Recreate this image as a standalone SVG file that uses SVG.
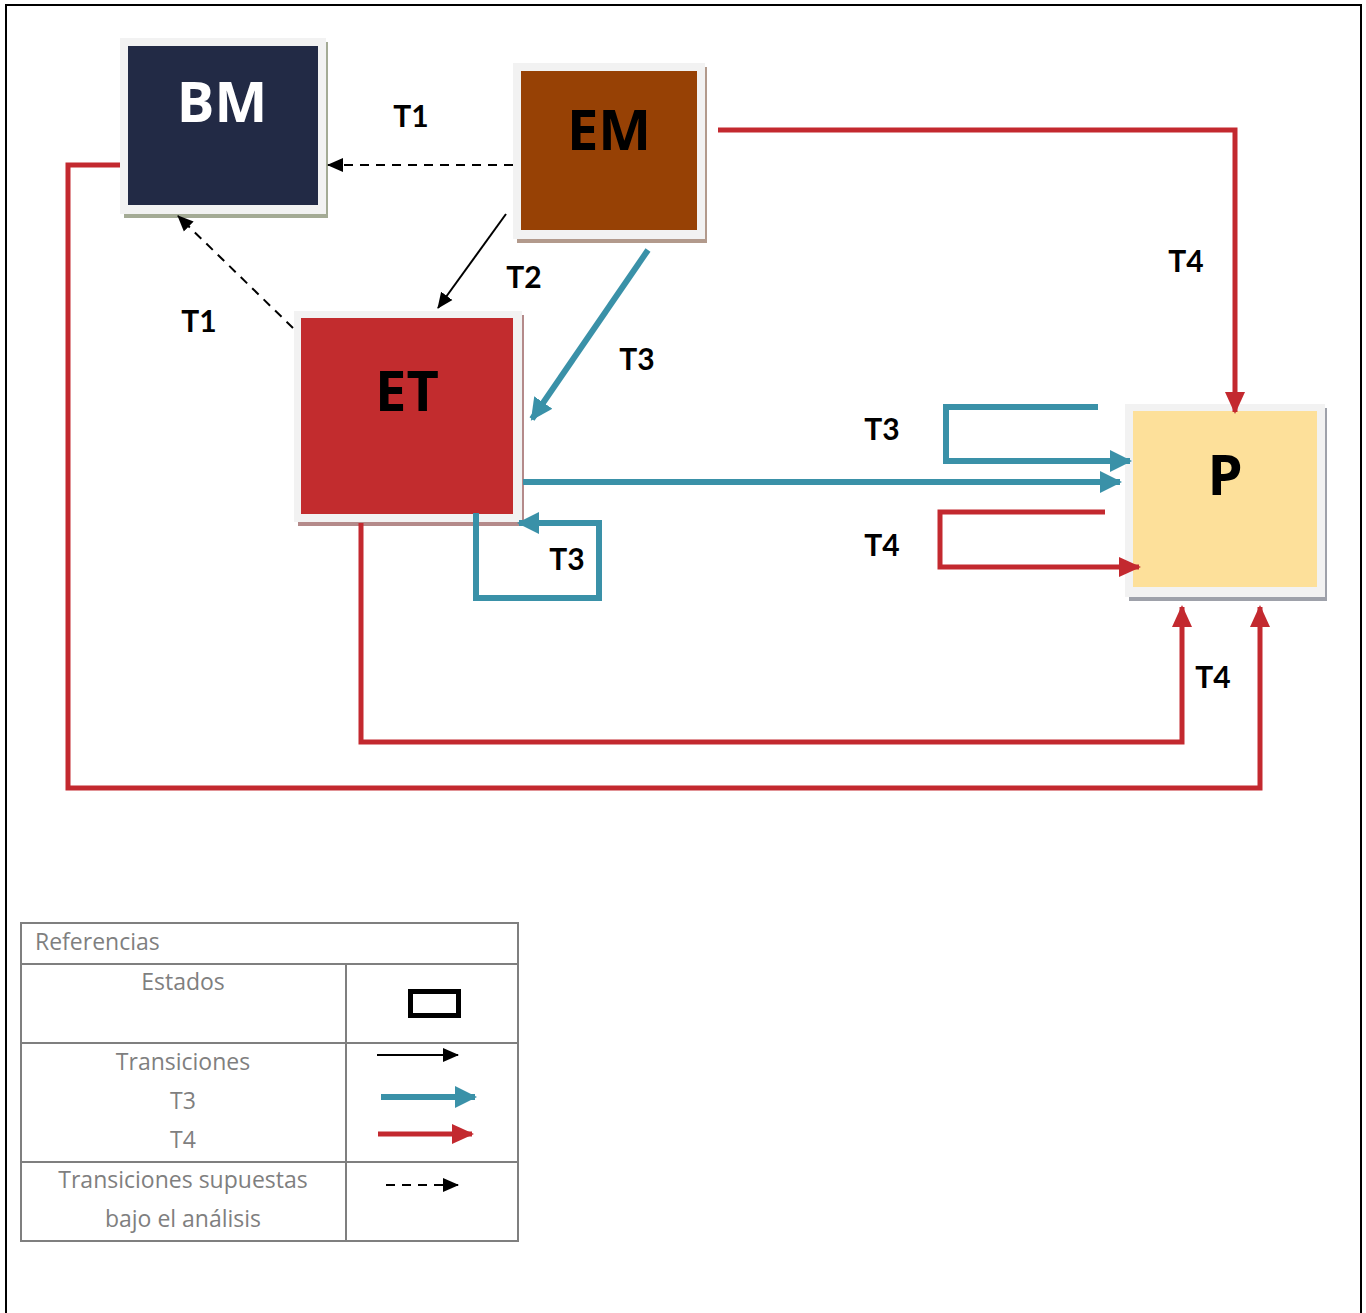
<svg xmlns="http://www.w3.org/2000/svg" width="1366" height="1313" viewBox="0 0 1366 1313">
<style>
.lbl{font-family:Lato,"Liberation Sans",sans-serif;font-weight:bold;font-size:30px;fill:#000;text-anchor:middle}
.ntx{font-family:"Open Sans","Liberation Sans",sans-serif;font-weight:bold;font-size:56px;text-anchor:middle}
.leg{font-family:"Open Sans","Liberation Sans",sans-serif;font-size:23px;fill:#7f7f7f}
.frame{fill:#f2f2f2}
.teal{stroke:#3a91a8;stroke-width:6;fill:none}
.red{stroke:#c3292f;stroke-width:5;fill:none}
.blk{stroke:#000;stroke-width:2;fill:none}
.dash{stroke:#000;stroke-width:2;fill:none;stroke-dasharray:9 7}
.grid{stroke:#7f7f7f;stroke-width:2;fill:none}
</style>
<defs>
<marker id="aT" markerUnits="userSpaceOnUse" markerWidth="24" markerHeight="24" refX="20" refY="12" orient="auto"><path d="M0,1 L22,12 L0,23 Z" fill="#3a91a8"/></marker>
<marker id="aR" markerUnits="userSpaceOnUse" markerWidth="24" markerHeight="24" refX="20" refY="12" orient="auto"><path d="M0,2 L22,12 L0,22 Z" fill="#c3292f"/></marker>
<marker id="aB" markerUnits="userSpaceOnUse" markerWidth="18" markerHeight="18" refX="15" refY="8" orient="auto"><path d="M0,1 L16,8 L0,15 Z" fill="#000"/></marker>
</defs>
<rect width="1366" height="1313" fill="#fff"/>
<path d="M6,1313 V5 H1361 V1313" fill="none" stroke="#000" stroke-width="2"/>

<g id="BM">
<rect x="124" y="42" width="204" height="176" fill="#a4ab95"/>
<rect class="frame" x="120" y="38" width="206" height="176"/>
<rect x="128" y="46" width="190" height="159" fill="#222a45"/>
<text class="ntx" x="222" y="122" fill="#fff">BM</text>
</g>
<g id="EM">
<rect x="517" y="67" width="190" height="176" fill="#b29a8c"/>
<rect class="frame" x="513" y="63" width="192" height="176"/>
<rect x="521" y="71" width="176" height="159" fill="#974105"/>
<text class="ntx" x="609" y="150" fill="#000">EM</text>
</g>
<g id="ET">
<rect x="298" y="315" width="226" height="211" fill="#b48a8a"/>
<rect class="frame" x="294" y="311" width="228" height="211"/>
<rect x="301" y="318" width="212" height="196" fill="#c22c2e"/>
<text class="ntx" x="407" y="411" fill="#000">ET</text>
</g>
<g id="P">
<rect x="1129" y="408" width="198" height="193" fill="#9ea1aa"/>
<rect class="frame" x="1125" y="404" width="200" height="193"/>
<rect x="1133" y="411" width="184" height="176" fill="#fde09a"/>
<text class="ntx" x="1225" y="495" fill="#000">P</text>
</g>

<g id="connectors">
<line class="dash" x1="513" y1="165" x2="328" y2="165" marker-end="url(#aB)"/>
<line class="dash" x1="293" y1="328" x2="178" y2="216" marker-end="url(#aB)"/>
<line class="blk" x1="506" y1="214" x2="438" y2="308" marker-end="url(#aB)"/>
<line class="teal" x1="648" y1="250" x2="532" y2="419" marker-end="url(#aT)"/>
<line class="teal" x1="523" y1="482" x2="1120" y2="482" marker-end="url(#aT)"/>
<polyline class="teal" points="1098,407 946,407 946,461 1130,461" marker-end="url(#aT)"/>
<polyline class="red" points="1105,512 940,512 940,567 1139,567" marker-end="url(#aR)"/>
<polyline class="teal" points="476,513 476,598 599,598 599,523 519,523" marker-end="url(#aT)"/>
<polyline class="red" points="718,130 1235,130 1235,412" marker-end="url(#aR)"/>
<polyline class="red" points="361,523 361,742 1182,742 1182,607" marker-end="url(#aR)"/>
<polyline class="red" points="120,165 68,165 68,788 1260,788 1260,607" marker-end="url(#aR)"/>
</g>

<g id="labels">
<text class="lbl" x="411" y="127">T1</text>
<text class="lbl" x="524" y="288">T2</text>
<text class="lbl" x="199" y="332">T1</text>
<text class="lbl" x="637" y="370">T3</text>
<text class="lbl" x="1186" y="272">T4</text>
<text class="lbl" x="882" y="440">T3</text>
<text class="lbl" x="882" y="556">T4</text>
<text class="lbl" x="567" y="570">T3</text>
<text class="lbl" x="1213" y="688">T4</text>
</g>

<g id="legend">
<rect class="grid" x="21" y="923" width="497" height="318"/>
<line class="grid" x1="21" y1="964" x2="518" y2="964"/>
<line class="grid" x1="21" y1="1043" x2="518" y2="1043"/>
<line class="grid" x1="21" y1="1162" x2="518" y2="1162"/>
<line class="grid" x1="346" y1="964" x2="346" y2="1241"/>
<text class="leg" x="35" y="950">Referencias</text>
<text class="leg" x="183" y="990" text-anchor="middle">Estados</text>
<text class="leg" x="183" y="1070" text-anchor="middle">Transiciones</text>
<text class="leg" x="183" y="1109" text-anchor="middle">T3</text>
<text class="leg" x="183" y="1148" text-anchor="middle">T4</text>
<text class="leg" x="183" y="1188" text-anchor="middle">Transiciones supuestas</text>
<text class="leg" x="183" y="1227" text-anchor="middle">bajo el análisis</text>
<rect x="410.5" y="991.5" width="48" height="24" fill="none" stroke="#000" stroke-width="5"/>
<line class="blk" x1="377" y1="1055" x2="458" y2="1055" marker-end="url(#aB)"/>
<line class="teal" x1="381" y1="1097" x2="475" y2="1097" marker-end="url(#aT)"/>
<line class="red" x1="378" y1="1134" x2="472" y2="1134" stroke-width="6" marker-end="url(#aR)"/>
<line class="dash" x1="386" y1="1185" x2="458" y2="1185" marker-end="url(#aB)"/>
</g>
</svg>
